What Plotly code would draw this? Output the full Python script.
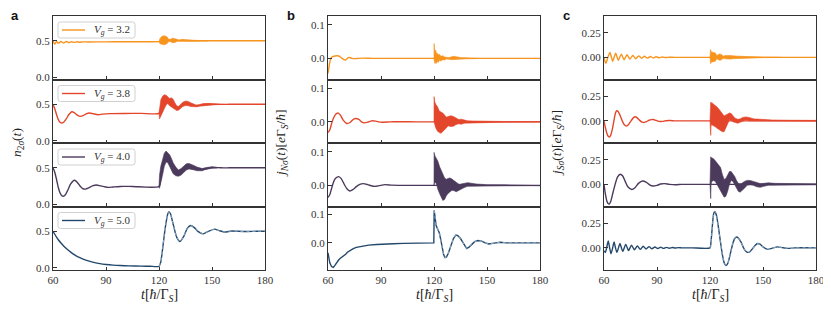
import plotly.graph_objects as go

# ---------------- data (t, value) ----------------
VG = ["3.2", "3.8", "4.0", "5.0"]
X_TICKS = [60, 90, 120, 150, 180]

# column a : n_2sigma(t)
A1 = [(60,0.50),(61,0.455),(62,0.49),(63,0.465),(64.5,0.49),(66,0.47),(67.5,0.49),(69,0.475),(70.5,0.488),(72,0.478),(73.5,0.487),(75,0.48),(77,0.486),(80,0.484),(90,0.486),(100,0.487),(110,0.488),(120,0.489),(123,0.50),(126,0.505),(130,0.504),(135,0.502),(140,0.501),(150,0.50),(165,0.50),(180,0.50)]
A1_BAND = [(120,0.490,0.489),(120.5,0.53,0.46),(121.5,0.56,0.45),(123,0.57,0.445),(124.5,0.555,0.46),(125.5,0.52,0.49),(126.5,0.52,0.49),(127.5,0.535,0.475),(129,0.53,0.478),(130.5,0.515,0.495),(131.5,0.512,0.493),(133,0.52,0.485),(135,0.515,0.487),(137,0.51,0.492),(140,0.507,0.494),(144,0.504,0.497),(148,0.501,0.499)]
A2 = [(60,0.50),(61,0.44),(62,0.36),(63,0.29),(64,0.255),(65,0.245),(66,0.255),(67.5,0.30),(69,0.36),(70.6,0.398),(72,0.387),(73.5,0.355),(75.3,0.335),(77,0.345),(78.8,0.37),(80.6,0.38),(82.5,0.372),(85.6,0.358),(88,0.365),(92,0.372),(100,0.375),(110,0.376),(120,0.376),(121,0.45),(122.5,0.52),(124,0.56),(126,0.53),(128,0.50),(130,0.445),(132,0.47),(134,0.50),(136.5,0.51),(139,0.49),(141,0.478),(144,0.49),(148,0.505),(152,0.50),(160,0.50),(170,0.50),(180,0.50)]
A2_BAND = [(120,0.376,0.376),(120.3,0.45,0.30),(121,0.56,0.32),(122,0.61,0.38),(123,0.63,0.44),(124,0.625,0.49),(125,0.60,0.51),(126,0.58,0.48),(127,0.59,0.46),(128,0.57,0.45),(129,0.52,0.43),(130,0.48,0.415),(131,0.47,0.42),(132,0.50,0.44),(133.5,0.53,0.47),(135,0.545,0.485),(136.5,0.54,0.48),(138,0.52,0.47),(139.5,0.50,0.463),(141,0.49,0.465),(143,0.497,0.475),(145,0.51,0.485),(148,0.51,0.49),(152,0.505,0.495),(158,0.502,0.498)]
A3 = [(60,0.50),(61,0.44),(62,0.34),(63,0.23),(64,0.155),(65,0.118),(65.8,0.11),(67,0.13),(68.5,0.20),(70,0.28),(72.2,0.33),(73.8,0.30),(75.3,0.25),(76.8,0.215),(78.4,0.208),(80.2,0.225),(82.3,0.252),(84.7,0.265),(87,0.252),(91,0.232),(94,0.238),(98,0.245),(105,0.245),(120,0.245),(121,0.36),(122,0.50),(123.5,0.63),(125,0.63),(127,0.55),(129.5,0.45),(131,0.43),(134,0.49),(137,0.52),(140,0.50),(143.5,0.475),(147,0.49),(150,0.505),(155,0.50),(160,0.50),(170,0.50),(180,0.50)]
A3_BAND = [(120,0.245,0.235),(120.3,0.40,0.22),(121,0.52,0.28),(122,0.62,0.40),(123,0.70,0.52),(124,0.73,0.58),(125,0.71,0.57),(126,0.68,0.52),(127,0.63,0.47),(128,0.57,0.42),(129.5,0.51,0.39),(131,0.47,0.385),(132.5,0.49,0.40),(134,0.53,0.44),(135.5,0.555,0.47),(137,0.56,0.485),(138.5,0.55,0.48),(140,0.53,0.47),(141.5,0.51,0.46),(143,0.495,0.455),(144.5,0.49,0.46),(146,0.50,0.475),(148,0.51,0.49),(150,0.515,0.495),(153,0.505,0.497)]
A4 = [(60,0.50),(61,0.46),(62,0.42),(63,0.385),(64.5,0.34),(66,0.30),(68,0.255),(70,0.215),(72,0.18),(74.5,0.145),(77,0.12),(80,0.095),(83,0.075),(86.6,0.057),(90,0.046),(94,0.037),(98,0.031),(103,0.027),(110,0.023),(115,0.021),(120,0.02),(121,0.08),(122,0.25),(123,0.45),(124,0.62),(125,0.74),(125.6,0.77),(126.5,0.74),(128,0.60),(130,0.42),(131.9,0.36),(134,0.43),(136,0.54),(138,0.58),(140,0.55),(142,0.50),(145,0.465),(148,0.50),(151.5,0.53),(154,0.51),(157.3,0.49),(161,0.505),(165,0.50),(170,0.497),(175,0.50),(180,0.50)]

# column b : j_N sigma(t)
B1 = [(60,-0.045),(60.5,-0.028),(61,-0.012),(61.5,-0.002),(62,0.003),(63,0.006),(64,0.007),(65,0.0075),(66,0.007),(67,0.004),(68,0.0),(69,-0.004),(69.8,-0.005),(70.6,-0.002),(71.5,0.002),(72.5,0.002),(73.5,0.0),(75,-0.001),(77,0.0),(80,0.0006),(85,0.0),(90,0.0),(100,0.0),(120,0.0),(150,0.0),(180,0.0)]
B1_BAND = [(120,0.0,0.0),(120.05,0.044,-0.005),(120.3,0.03,-0.012),(120.6,0.02,-0.016),(121,0.024,-0.01),(121.5,0.012,-0.015),(122,0.015,-0.008),(122.5,0.01,-0.012),(123,0.012,-0.006),(124,0.006,-0.008),(125,0.008,-0.004),(126,0.004,-0.005),(127,0.003,-0.002),(128.5,0.002,-0.003),(130,0.005,-0.004),(131,0.006,-0.005),(132.5,0.005,-0.004),(134,0.003,-0.003),(135.5,0.002,-0.002),(138,0.0015,-0.0015),(142,0.001,-0.001),(146,0.0005,-0.0005)]
B2 = [(60,-0.032),(61,-0.024),(62,-0.006),(63,0.01),(64,0.02),(65,0.025),(65.8,0.026),(67,0.02),(68.5,0.006),(70.6,-0.005),(72.5,-0.002),(74,0.006),(75.5,0.01),(77.5,0.007),(79,0.0),(80.5,-0.003),(82.5,-0.001),(84.7,0.003),(87,0.002),(90,-0.001),(95,0.0),(100,0.0005),(110,0.0),(120,0.0),(150,0.0),(180,0.0)]
B2_BAND = [(120,0.0,0.0),(120.05,0.075,-0.005),(120.4,0.06,-0.01),(121,0.052,-0.018),(122,0.045,-0.028),(123,0.032,-0.032),(124,0.03,-0.034),(125,0.026,-0.03),(126,0.02,-0.024),(127,0.014,-0.018),(128,0.016,-0.012),(129.5,0.018,-0.014),(131,0.016,-0.013),(132.5,0.011,-0.008),(134,0.007,-0.006),(135.5,0.008,-0.007),(137,0.005,-0.004),(139,0.003,-0.003),(142,0.0025,-0.002),(146,0.002,-0.002),(150,0.0015,-0.0015),(160,0.001,-0.001),(180,0.0008,-0.0008)]
B3 = [(60,-0.036),(61,-0.028),(62,-0.01),(63,0.008),(64,0.019),(65,0.024),(66,0.026),(67.5,0.02),(69,0.005),(70.7,-0.01),(72.4,-0.017),(74,-0.013),(76,-0.004),(78,0.003),(80,0.005),(82.5,0.002),(85,-0.002),(86.6,-0.003),(89,-0.001),(92.3,0.002),(96,0.0005),(100,0.0),(110,0.0),(120,0.0),(150,0.0),(180,0.0)]
B3_BAND = [(120,0.0,0.0),(120.05,0.098,0.0),(120.5,0.088,0.01),(121.3,0.08,0.005),(122.2,0.072,-0.012),(123.2,0.055,-0.025),(124.1,0.043,-0.037),(125,0.033,-0.045),(126,0.022,-0.042),(126.9,0.018,-0.032),(127.8,0.02,-0.025),(128.8,0.022,-0.02),(129.8,0.02,-0.016),(130.7,0.016,-0.015),(131.7,0.012,-0.017),(132.6,0.008,-0.019),(133.6,0.005,-0.018),(134.5,0.003,-0.015),(136,0.005,-0.01),(137.4,0.008,-0.006),(139,0.008,-0.003),(140.2,0.007,-0.002),(142,0.005,-0.003),(144,0.004,-0.004),(147,0.003,-0.003),(150,0.002,-0.002),(160,0.0015,-0.0015),(180,0.001,-0.001)]
B4 = [(60,-0.035),(61,-0.07),(62,-0.083),(63,-0.086),(64,-0.078),(65,-0.068),(66,-0.06),(67,-0.054),(68,-0.05),(69,-0.046),(70,-0.04),(71,-0.033),(72.5,-0.026),(74.3,-0.02),(76,-0.016),(78,-0.013),(80,-0.011),(83,-0.008),(87.6,-0.006),(92,-0.004),(97,-0.003),(102.6,-0.002),(110,-0.001),(115,-0.0005),(119.9,0.0),(120.1,0.114),(120.6,0.085),(121.2,0.06),(121.8,0.052),(122.4,0.045),(123,0.035),(123.8,0.012),(124.6,-0.015),(125.4,-0.04),(126.2,-0.052),(127,-0.05),(128,-0.038),(129,-0.02),(130,0.0),(131,0.015),(132.4,0.027),(133.5,0.025),(135,0.015),(136.5,0.0),(138.5,-0.02),(140,-0.014),(141.5,-0.004),(143,0.004),(145,0.008),(147,0.006),(149,0.0),(151,-0.004),(154,-0.001),(157.5,0.002),(161,0.0),(165,-0.001),(170,0.0),(180,0.0)]

# column c : j_S sigma(t)
C1 = [(60,0.0),(60.5,-0.04),(61.1,-0.06),(62.2,0.0),(63.4,0.05),(64.9,-0.04),(66.6,0.042),(68.1,-0.03),(69.8,0.033),(71.4,-0.024),(73.0,0.026),(74.7,-0.018),(76.3,0.02),(78.0,-0.014),(79.6,0.015),(81.3,-0.01),(82.9,0.011),(84.6,-0.008),(86.2,0.008),(87.9,-0.006),(89.5,0.006),(91.2,-0.004),(93,0.003),(95,-0.002),(97,0.001),(100,0.0),(110,0.0),(120,0.0),(150,0.0),(180,0.0)]
C1_BAND = [(120,0.0,0.0),(120.3,0.08,-0.065),(120.6,0.06,-0.05),(121,0.055,-0.05),(122,0.05,-0.045),(123,0.045,-0.04),(123.8,0.02,-0.015),(124.5,0.03,-0.025),(125.5,0.035,-0.03),(126.5,0.03,-0.025),(127.5,0.012,-0.01),(128.5,0.018,-0.015),(130,0.022,-0.02),(131.5,0.02,-0.018),(133,0.015,-0.013),(134.5,0.01,-0.008),(136,0.012,-0.01),(138,0.01,-0.008),(141,0.007,-0.006),(145,0.005,-0.004),(150,0.003,-0.003),(160,0.0015,-0.0015)]
C2 = [(60,0.0),(60.8,-0.07),(61.7,-0.13),(62.5,-0.16),(63,-0.165),(63.8,-0.145),(64.8,-0.08),(65.8,0.02),(66.5,0.08),(67.2,0.103),(68,0.095),(69,0.06),(70.3,0.0),(71.5,-0.04),(72.8,-0.053),(74,-0.035),(75.5,0.005),(76.7,0.033),(77.7,0.041),(78.8,0.03),(80.2,0.005),(81.5,-0.012),(82.8,-0.016),(84,-0.008),(85.5,0.006),(86.8,0.013),(87.9,0.014),(89,0.008),(90.5,-0.003),(92,-0.006),(93.2,-0.005),(95,0.001),(97.5,0.003),(100,0.0),(110,0.0),(120,0.0),(150,0.0),(180,0.0)]
C2_BAND = [(120,0.0,0.0),(120.4,0.19,-0.148),(120.6,0.18,-0.05),(121,0.185,-0.04),(122,0.17,-0.05),(123,0.16,-0.06),(124,0.14,-0.075),(125,0.12,-0.09),(126,0.10,-0.10),(127,0.07,-0.11),(128,0.05,-0.11),(129,0.06,-0.07),(130,0.075,-0.03),(131,0.08,0.01),(132,0.075,0.005),(133,0.05,-0.01),(134,0.03,-0.02),(135.7,0.015,-0.025),(137,0.02,-0.015),(138.5,0.035,0.0),(140.4,0.04,0.01),(142,0.035,0.0),(143.5,0.025,-0.005),(145,0.02,-0.005),(147,0.018,-0.003),(150,0.012,-0.006),(155,0.009,-0.006),(165,0.006,-0.005),(180,0.005,-0.004)]
C3 = [(60,0.0),(60.8,-0.1),(61.7,-0.175),(62.3,-0.195),(63,-0.2),(63.8,-0.175),(65,-0.09),(66.3,0.0),(67.7,0.075),(69.2,0.103),(70.6,0.085),(72,0.03),(73.5,-0.025),(75.7,-0.052),(77.5,-0.035),(79.5,0.01),(81.9,0.034),(84,0.02),(85.8,-0.005),(87.9,-0.017),(90,-0.01),(92,0.003),(94.2,0.007),(97,0.0),(100.5,-0.004),(104,0.0),(110,0.0),(120,0.0),(150,0.0),(180,0.0)]
C3_BAND = [(120,0.0,0.0),(120.4,0.28,-0.145),(120.6,0.27,0.0),(121,0.27,0.03),(122,0.26,0.04),(123,0.24,0.03),(124,0.22,0.0),(125,0.20,-0.03),(126,0.17,-0.06),(127,0.10,-0.10),(128,0.05,-0.13),(129,0.06,-0.12),(130,0.10,-0.07),(131,0.13,0.0),(132,0.13,0.04),(133,0.11,0.03),(134,0.08,0.0),(135,0.04,-0.04),(136,0.01,-0.07),(137,0.005,-0.08),(138,0.01,-0.07),(139.5,0.03,-0.04),(141,0.04,-0.01),(142.7,0.04,-0.005),(144.5,0.03,-0.01),(146.5,0.015,-0.025),(148.4,0.008,-0.03),(150.5,0.01,-0.02),(153,0.015,-0.01),(157,0.01,-0.012),(162,0.008,-0.008),(170,0.006,-0.006),(180,0.005,-0.005)]
C4 = [(60,-0.03),(60.8,-0.045),(61.6,0.01),(62.4,0.07),(63.2,0.0),(64.0,-0.06),(64.9,0.0),(65.7,0.06),(66.5,0.0),(67.3,-0.045),(68.2,0.0),(69.0,0.045),(70.6,-0.035),(72.3,0.035),(73.9,-0.027),(75.6,0.027),(77.2,-0.02),(78.9,0.02),(80.5,-0.016),(82.2,0.016),(83.8,-0.012),(85.5,0.012),(87.1,-0.009),(88.8,0.009),(90.4,-0.007),(92.1,0.007),(93.7,-0.005),(95.4,0.005),(97,-0.004),(98.7,0.003),(100.3,-0.002),(102,0.002),(104,0.0),(110,0.0),(120,0.0),(120.5,0.05),(121,0.15),(121.5,0.26),(122,0.34),(122.6,0.37),(123.3,0.35),(124,0.30),(125,0.18),(126,0.05),(127,-0.07),(128,-0.15),(129,-0.18),(130,-0.16),(131,-0.10),(132,-0.02),(133,0.05),(134,0.095),(135.1,0.11),(136,0.10),(137.5,0.06),(139,0.0),(140,-0.03),(141.3,-0.046),(142.5,-0.04),(144,-0.01),(145.5,0.025),(147,0.044),(148.5,0.035),(150,0.01),(152.6,-0.015),(155,-0.005),(158.3,0.01),(161,0.002),(164,-0.005),(168,0.0),(180,0.0)]

COLORS = ["#f7941e", "#e4462b", "#4c3a5c", "#23486b"]
DASH_COLOR = "#a9c3da"

PANELS = [
    [(A1, A1_BAND), (A2, A2_BAND), (A3, A3_BAND), (A4, None)],
    [(B1, B1_BAND), (B2, B2_BAND), (B3, B3_BAND), (B4, None)],
    [(C1, C1_BAND), (C2, C2_BAND), (C3, C3_BAND), (C4, None)],
]
Y_RANGES = [
    [[-0.03, 0.84]] * 4,
    [[-0.063, 0.126]] * 3 + [[-0.095, 0.127]],
    [[-0.225, 0.42]] * 4,
]
Y_TICKS = [[0.0, 0.5], [0.0, 0.1], [0.0, 0.25]]
Y_FMT = [".1f", ".1f", ".2f"]

# ---------------- layout geometry (window pixels) ----------------
WIN_W, WIN_H = 831, 309
OFF = 8                      # page body margin around the figure
W, H = WIN_W - OFF, WIN_H - OFF
COL_PX = [(53, 265), (328, 540), (604, 816)]
ROW_PX = [(16, 79.5), (79.5, 143), (143, 206.5), (206.5, 270)]
SERIF = "Liberation Serif"
AX_COLOR = "#333333"


def fx(px):
    return (px - OFF) / W


def fy(py):
    return 1 - (py - OFF) / H


fig = go.Figure()
layout = {}

for c in range(3):
    for r in range(4):
        n = r * 3 + c + 1
        xa = "x" if n == 1 else f"x{n}"
        ya = "y" if n == 1 else f"y{n}"
        series, band = PANELS[c][r]
        color = COLORS[r]
        ts = [p[0] for p in series]
        vs = [p[1] for p in series]
        shape = "linear" if (c == 1 and r == 3) else "spline"
        fig.add_trace(go.Scatter(
            x=ts, y=vs, mode="lines", xaxis=xa, yaxis=ya,
            line=dict(color=color, width=1.4, shape=shape, smoothing=0.6),
            showlegend=False, hoverinfo="skip"))
        if band is not None:
            bt = [p[0] for p in band]
            up = [p[1] for p in band]
            lo = [p[2] for p in band]
            fig.add_trace(go.Scatter(
                x=bt + bt[::-1], y=up + lo[::-1], mode="lines", fill="toself",
                fillcolor=color, line=dict(color=color, width=0.6),
                xaxis=xa, yaxis=ya, showlegend=False, hoverinfo="skip"))
        else:
            dt = [p[0] for p in series if p[0] >= 120]
            dv = [p[1] for p in series if p[0] >= 120]
            fig.add_trace(go.Scatter(
                x=dt, y=dv, mode="lines", xaxis=xa, yaxis=ya,
                line=dict(color=DASH_COLOR, width=0.8, dash="3px,3px", shape=shape, smoothing=0.6),
                showlegend=False, hoverinfo="skip"))

        x0, x1 = COL_PX[c]
        y0, y1 = ROW_PX[r]
        axis_common = dict(showline=True, linecolor=AX_COLOR, linewidth=1, mirror=True,
                           ticks="inside", ticklen=3.5, tickcolor=AX_COLOR, tickwidth=1,
                           showgrid=False, zeroline=False, automargin=False,
                           tickfont=dict(family=SERIF, size=11, color=AX_COLOR))
        layout["xaxis" if n == 1 else f"xaxis{n}"] = dict(
            axis_common, domain=[fx(x0), fx(x1)], anchor=ya, range=[60, 180],
            tickvals=X_TICKS, showticklabels=(r == 3))
        layout["yaxis" if n == 1 else f"yaxis{n}"] = dict(
            axis_common, domain=[fy(y1), fy(y0)], anchor=xa,
            range=Y_RANGES[c][r], tickvals=Y_TICKS[c], tickformat=Y_FMT[c])

# legends of column a, drawn as boxes with a line sample and a label
shapes = []
ann = []
for r in range(4):
    top = ROW_PX[r][0] + 6
    bx0, bx1, by0, by1 = 58, 135, top, top + 16
    rad = 2.5
    path = (f"M {fx(bx0 + rad)},{fy(by0)} L {fx(bx1 - rad)},{fy(by0)} "
            f"Q {fx(bx1)},{fy(by0)} {fx(bx1)},{fy(by0 + rad)} L {fx(bx1)},{fy(by1 - rad)} "
            f"Q {fx(bx1)},{fy(by1)} {fx(bx1 - rad)},{fy(by1)} L {fx(bx0 + rad)},{fy(by1)} "
            f"Q {fx(bx0)},{fy(by1)} {fx(bx0)},{fy(by1 - rad)} L {fx(bx0)},{fy(by0 + rad)} "
            f"Q {fx(bx0)},{fy(by0)} {fx(bx0 + rad)},{fy(by0)} Z")
    shapes.append(dict(type="path", path=path, xref="paper", yref="paper",
                       fillcolor="rgba(255,255,255,0.85)", line=dict(color="#d0d0d0", width=1),
                       layer="above"))
    ym = (by0 + by1) / 2
    shapes.append(dict(type="line", xref="paper", yref="paper", x0=fx(62), x1=fx(85),
                       y0=fy(ym), y1=fy(ym), line=dict(color=COLORS[r], width=1.4), layer="above"))
    ann.append(dict(text=f"<i>V<sub>g</sub></i> = {VG[r]}", x=fx(92), y=fy(ym),
                    xref="paper", yref="paper", showarrow=False, xanchor="left", yanchor="middle",
                    font=dict(family=SERIF, size=11, color=AX_COLOR)))

ylabels = [
    "<i>n</i><sub>2<i>σ</i></sub>(<i>t</i>)",
    "<i>j</i><sub><i>Nσ</i></sub>(<i>t</i>)[<i>e</i>Γ<sub><i>S</i></sub>/<i>ħ</i>]",
    "<i>j</i><sub><i>Sσ</i></sub>(<i>t</i>)[<i>e</i>Γ<sub><i>S</i></sub>/<i>ħ</i>]",
]
ylabel_x = [18, 282, 558]
letters = ["a", "b", "c"]
letter_x = [15, 291, 566]
for c in range(3):
    cx = (COL_PX[c][0] + COL_PX[c][1]) / 2
    ann.append(dict(text="<i>t</i>[<i>ħ</i>/Γ<sub><i>S</i></sub>]", x=fx(cx), y=fy(295),
                    xref="paper", yref="paper", showarrow=False, xanchor="center", yanchor="middle",
                    font=dict(family=SERIF, size=14, color="#222")))
    ann.append(dict(text=ylabels[c], x=fx(ylabel_x[c]), y=fy(143), textangle=-90,
                    xref="paper", yref="paper", showarrow=False, xanchor="center", yanchor="middle",
                    font=dict(family=SERIF, size=13.5, color="#222")))
    ann.append(dict(text=f"<b>{letters[c]}</b>", x=fx(letter_x[c]), y=fy(15),
                    xref="paper", yref="paper", showarrow=False, xanchor="center", yanchor="middle",
                    font=dict(family="Liberation Sans", size=13, color="#111")))

layout.update(dict(template="none", width=W, height=H, margin=dict(l=0, r=0, t=0, b=0, pad=0),
                   paper_bgcolor="white", plot_bgcolor="white", annotations=ann, shapes=shapes,
                   showlegend=False))
fig.update_layout(layout)
fig.write_html("out.html")
